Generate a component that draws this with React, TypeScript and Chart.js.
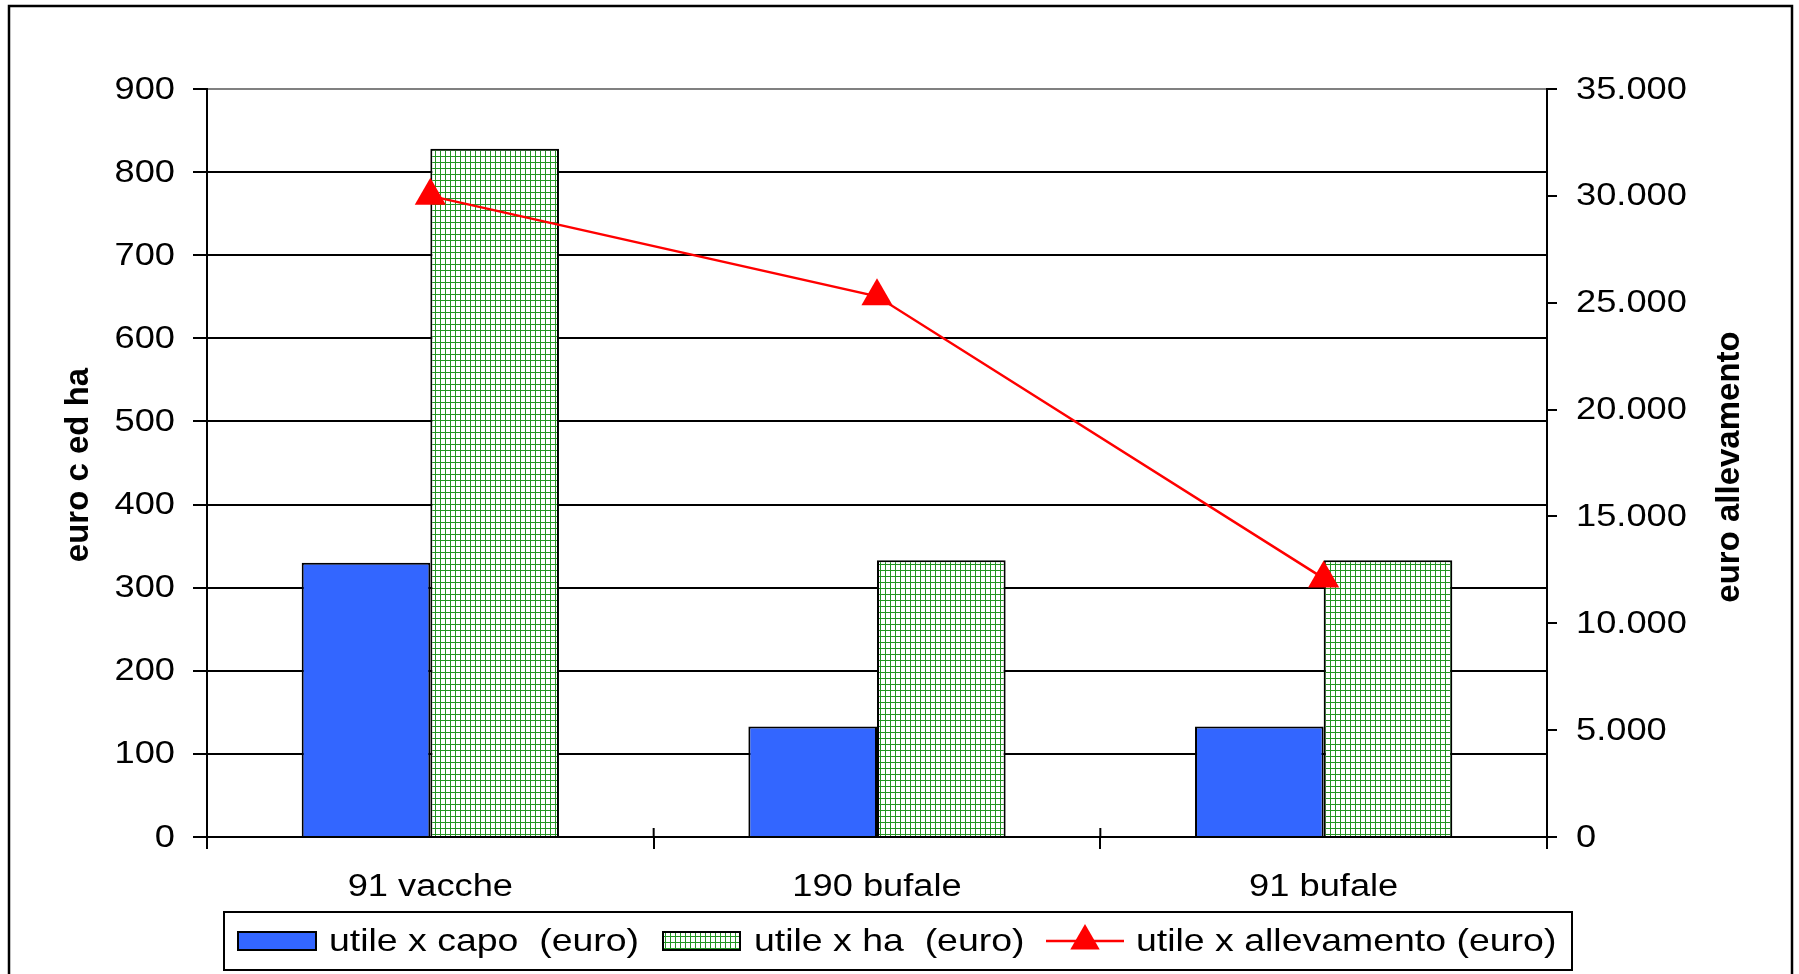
import React, { useEffect, useRef } from "react";
import { Chart, registerables } from "chart.js";

Chart.register(...registerables);

const categories = ["91 vacche", "190 bufale", "91 bufale"];
const utileCapo = [330, 133, 133];
const utileHa = [828, 333, 333];
const utileAllevamento = [30000, 25300, 12100];

const seriesLabels = ["utile x capo  (euro)", "utile x ha  (euro)", "utile x allevamento (euro)"];
const leftTitle = "euro c ed ha";
const rightTitle = "euro allevamento";

const FONT = "'Liberation Sans', Arial, sans-serif";
const BLUE = "#3366FF";
const RED = "#FF0000";
const STRETCH = 1.17;

const fmt = (v: number) => String(v).replace(/\B(?=(\d{3})+(?!\d))/g, ".");

export default function App() {
  const ref = useRef<HTMLCanvasElement | null>(null);

  useEffect(() => {
    const canvas = ref.current!;
    const ctx0 = canvas.getContext("2d")!;
    const tile = document.createElement("canvas");
    tile.width = 5;
    tile.height = 6;
    const tg = tile.getContext("2d")!;
    tg.fillStyle = "#ffffff";
    tg.fillRect(0, 0, 5, 6);
    tg.fillStyle = "#229522";
    tg.fillRect(0, 0, 1, 6);
    tg.fillRect(0, 0, 5, 1);
    const hatch = ctx0.createPattern(tile, "repeat")!;

    const stretchText = (ctx: CanvasRenderingContext2D, t: string, x: number, y: number, align: CanvasTextAlign, k = STRETCH) => {
      ctx.save();
      ctx.translate(x, y);
      ctx.scale(k, 1);
      ctx.textAlign = align;
      ctx.fillText(t, 0, 0);
      ctx.restore();
    };

    const extras = {
      id: "extras",
      afterDraw(chart: any) {
        const ctx = chart.ctx as CanvasRenderingContext2D;
        const area = chart.chartArea;
        ctx.save();
        // outer border
        ctx.strokeStyle = "#000";
        ctx.lineWidth = 2.5;
        ctx.strokeRect(9, 6, 1783, 1000);

        // x tick crosses above the axis
        const xs = chart.scales.x;
        ctx.lineWidth = 2;
        for (let i = 0; i <= categories.length; i++) {
          const px = xs.getPixelForValue(i - 0.5);
          ctx.beginPath();
          ctx.moveTo(px, area.bottom - 9);
          ctx.lineTo(px, area.bottom);
          ctx.stroke();
        }

        // tick labels
        ctx.fillStyle = "#000";
        ctx.font = `31px ${FONT}`;
        ctx.textBaseline = "middle";
        const ys = chart.scales.y;
        ys.ticks.forEach((t: any) => {
          stretchText(ctx, String(t.value), area.left - 32, ys.getPixelForValue(t.value) + 1, "right");
        });
        const y1 = chart.scales.y1;
        y1.ticks.forEach((t: any) => {
          stretchText(ctx, fmt(t.value), area.right + 29, y1.getPixelForValue(t.value) + 1, "left");
        });
        categories.forEach((c, i) => {
          stretchText(ctx, c, xs.getPixelForValue(i), 887, "center");
        });

        // axis titles
        ctx.font = `bold 33px ${FONT}`;
        ctx.textAlign = "center";
        ctx.textBaseline = "middle";
        ctx.save();
        ctx.translate(79, 465);
        ctx.rotate(-Math.PI / 2);
        ctx.fillText(leftTitle, 0, 0);
        ctx.restore();
        ctx.save();
        ctx.translate(1730, 467);
        ctx.rotate(-Math.PI / 2);
        ctx.fillText(rightTitle, 0, 0);
        ctx.restore();

        // legend
        ctx.lineWidth = 2;
        ctx.strokeStyle = "#000";
        ctx.fillStyle = "#fff";
        ctx.fillRect(224, 912, 1348, 58);
        ctx.strokeRect(224, 912, 1348, 58);
        const cy = 941;
        ctx.fillStyle = BLUE;
        ctx.fillRect(238, 932, 78, 18);
        ctx.strokeRect(238, 932, 78, 18);
        ctx.fillStyle = hatch;
        ctx.fillRect(663, 932, 77, 18);
        ctx.strokeRect(663, 932, 77, 18);
        ctx.strokeStyle = RED;
        ctx.lineWidth = 2.5;
        ctx.beginPath();
        ctx.moveTo(1046, cy);
        ctx.lineTo(1124, cy);
        ctx.stroke();
        const r = 17;
        ctx.fillStyle = RED;
        ctx.beginPath();
        ctx.moveTo(1085, cy - r);
        ctx.lineTo(1085 + r * Math.sin((2 * Math.PI) / 3), cy - r * Math.cos((2 * Math.PI) / 3));
        ctx.lineTo(1085 + r * Math.sin((4 * Math.PI) / 3), cy - r * Math.cos((4 * Math.PI) / 3));
        ctx.closePath();
        ctx.fill();

        ctx.fillStyle = "#000";
        ctx.font = `32px ${FONT}`;
        ctx.textBaseline = "middle";
        const textX = [329, 754, 1136];
        seriesLabels.forEach((t, i) => {
          stretchText(ctx, t, textX[i], cy + 1, "left", 1.17);
        });
        ctx.restore();
      },
    };

    const chart = new Chart(canvas, {
      type: "bar",
      data: {
        labels: categories,
        datasets: [
          {
            type: "line",
            label: seriesLabels[2],
            data: utileAllevamento,
            yAxisID: "y1",
            borderColor: RED,
            borderWidth: 2.5,
            backgroundColor: RED,
            pointStyle: "triangle",
            pointRadius: 18,
            pointBackgroundColor: RED,
            pointBorderColor: RED,
            pointBorderWidth: 0,
            order: 0,
          } as any,
          {
            label: seriesLabels[0],
            data: utileCapo,
            yAxisID: "y",
            backgroundColor: BLUE,
            borderColor: "#000",
            borderWidth: 2,
            barPercentage: 1,
            categoryPercentage: 0.576,
            order: 1,
          },
          {
            label: seriesLabels[1],
            data: utileHa,
            yAxisID: "y",
            backgroundColor: hatch,
            borderColor: "#000",
            borderWidth: 2,
            barPercentage: 1,
            categoryPercentage: 0.576,
            order: 1,
          },
        ],
      },
      options: {
        responsive: false,
        animation: false,
        devicePixelRatio: 1,
        layout: { padding: { left: 0, right: 0, top: 89, bottom: 0 } },
        plugins: {
          legend: { display: false },
          tooltip: { enabled: false },
        },
        scales: {
          x: {
            offset: true,
            grid: {
              offset: true,
              drawOnChartArea: false,
              drawTicks: true,
              tickLength: 12,
              color: "#000",
              lineWidth: 2,
            },
            border: { display: true, color: "#000", width: 2 },
            ticks: { display: false },
            afterFit: (s: any) => {
              s.height = 137;
            },
          },
          y: {
            position: "left",
            min: 0,
            max: 900,
            ticks: { stepSize: 100, display: false },
            grid: {
              color: (c: any) => (c.tick && c.tick.value === 900 ? "#808080" : "#000"),
              tickColor: "#000",
              lineWidth: 2,
              tickLength: 14,
            },
            border: { display: true, color: "#000", width: 2 },
            afterFit: (s: any) => {
              s.width = 207;
            },
          },
          y1: {
            position: "right",
            min: 0,
            max: 35000,
            ticks: { stepSize: 5000, display: false },
            grid: {
              drawOnChartArea: false,
              tickColor: "#000",
              color: "#000",
              lineWidth: 2,
              tickLength: 10,
            },
            border: { display: true, color: "#000", width: 2 },
            afterFit: (s: any) => {
              s.width = 252;
            },
          },
        },
      },
      plugins: [extras],
    });
    return () => chart.destroy();
  }, []);

  return (
    <div style={{ position: "fixed", left: 0, top: 0, width: 1799, height: 974, background: "#fff" }}>
      <canvas ref={ref} width={1799} height={974} style={{ display: "block" }} />
    </div>
  );
}
